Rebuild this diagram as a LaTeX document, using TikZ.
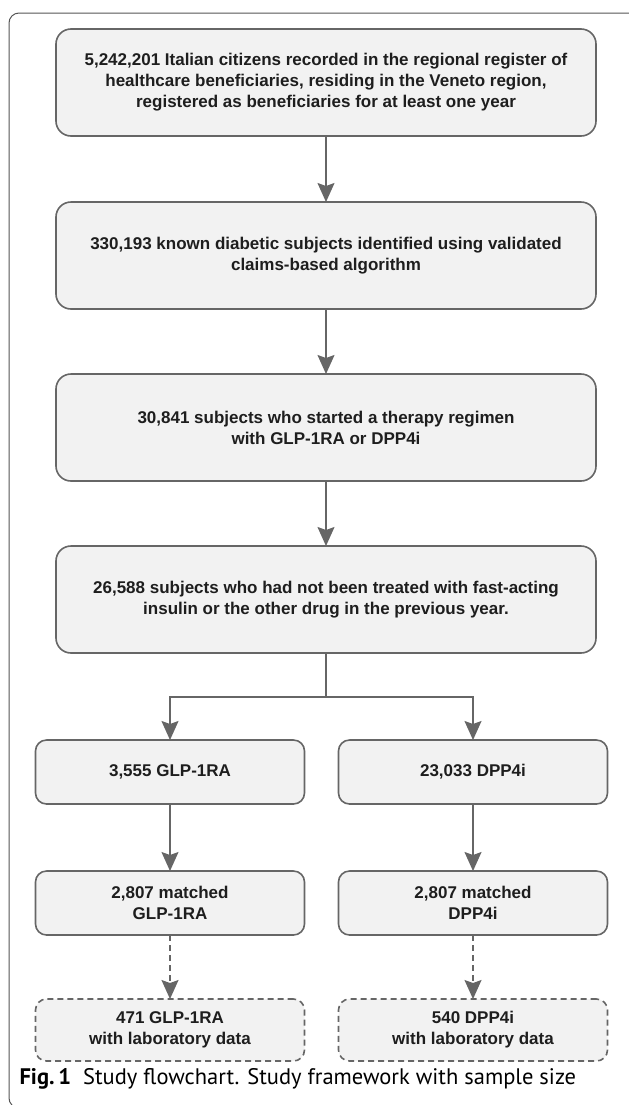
\documentclass[tikz,border=0pt]{standalone}
\usepackage{fontspec}
\setmainfont{Liberation Sans}
\newfontfamily\capfont{PT Sans}
\usepackage{xcolor}
\definecolor{colorLine}{HTML}{666666}
\definecolor{colorFill}{HTML}{F2F2F2}
\definecolor{colorText}{HTML}{1E1E1E}
\definecolor{colorFrame}{HTML}{555555}
\usetikzlibrary{arrows.meta, positioning}
\tikzset{
  stagebox/.style={draw=colorLine, fill=colorFill, line width=1.6bp, rounded corners=15bp, minimum width=540bp, minimum height=107bp, inner sep=0pt, outer sep=0pt, align=center, text=colorText, font=\fontsize{17bp}{21bp}\selectfont\bfseries},
  armbox/.style={stagebox, minimum width=269bp, minimum height=64bp, rounded corners=11bp},
  labbox/.style={armbox, dashed, dash pattern=on 6bp off 4bp, minimum height=62bp},
  flow/.style={->, draw=colorLine, line width=1.6bp},
}

\begin{document}
\begin{tikzpicture}[>={Stealth[length=19bp, width=17bp, inset=3bp]}, x=1bp, y=-1bp, node distance=66bp]
\useasboundingbox (0,0) rectangle (629,1105);
% outer frame of the figure
\draw[colorFrame, line width=1bp, rounded corners=10bp] (9,13) rectangle (660,1108);
\node[stagebox] (b1) at (326,82.5) {5,242,201 Italian citizens recorded in the regional register of\\healthcare beneficiaries, residing in the Veneto region,\\registered as beneficiaries for at least one year};
\node[stagebox, below=of b1] (b2) {330,193 known diabetic subjects identified using validated\\claims-based algorithm};
\node[stagebox, below=65bp of b2] (b3) {30,841 subjects who started a therapy regimen\\with GLP-1RA or DPP4i};
\node[stagebox, below=65bp of b3] (b4) {26,588 subjects who had not been treated with fast-acting\\insulin or the other drug in the previous year.};
% two arms
\node[armbox, below=87bp of b4, xshift=-156bp] (glp) {3,555 GLP-1RA};
\node[armbox, below=87bp of b4, xshift=147bp] (dpp) {23,033 DPP4i};
\node[armbox, below=67bp of glp] (glpm) {2,807 matched\\GLP-1RA};
\node[armbox, below=67bp of dpp] (dppm) {2,807 matched\\DPP4i};
\node[labbox, below=64bp of glpm] (glpl) {471 GLP-1RA\\with laboratory data};
\node[labbox, below=64bp of dppm] (dppl) {540 DPP4i\\with laboratory data};
\draw[flow] (b1) -- (b2);
\draw[flow] (b2) -- (b3);
\draw[flow] (b3) -- (b4);
\draw[flow] (b4.south) -- ++(0,44) -| (glp.north);
\draw[flow] (b4.south) -- ++(0,44) -| (dpp.north);
\draw[flow] (glp) -- (glpm);
\draw[flow] (dpp) -- (dppm);
\draw[flow, dashed, dash pattern=on 6bp off 4bp] (glpm) -- (glpl);
\draw[flow, dashed, dash pattern=on 6bp off 4bp] (dppm) -- (dppl);
% caption
\node[anchor=west, text=black, font=\capfont\fontsize{22.5bp}{24bp}\selectfont] (cap) at (16,1079) {\textbf{Fig.\,1}\hspace{12bp}Study flowchart. Study framework with sample size};
\end{tikzpicture}
\end{document}
